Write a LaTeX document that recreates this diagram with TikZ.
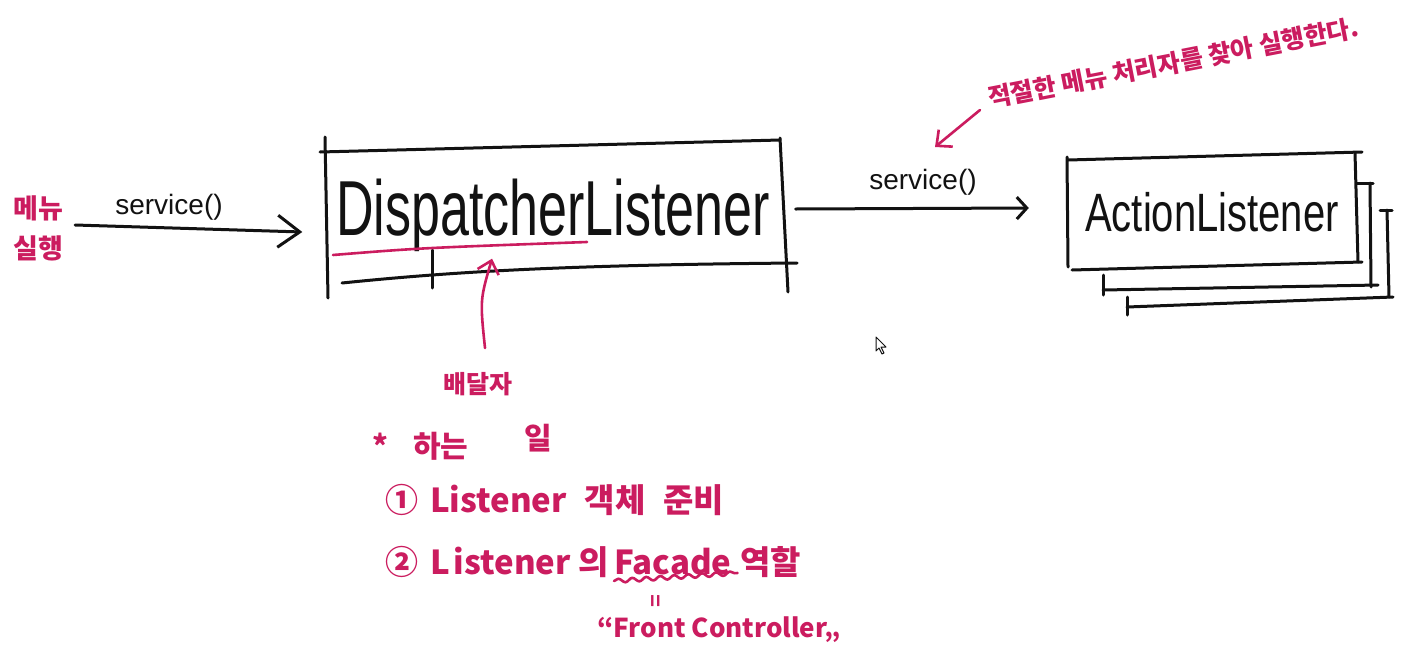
\documentclass[tikz,border=0pt]{standalone}
\usepackage{fontspec}
\setmainfont{Liberation Sans}
\newfontfamily\kr{Noto Sans CJK KR}
\usetikzlibrary{arrows.meta,calc,decorations.pathmorphing}
\definecolor{mag}{RGB}{203,28,95}
\definecolor{ink}{RGB}{18,18,18}
\tikzset{
  pen/.style={line width=3pt, line cap=round, line join=round, color=ink},
  mpen/.style={line width=2.6pt, line cap=round, line join=round, color=mag},
  bigarr/.style={pen, -{Straight Barb[length=22pt,width=32pt]}},
  smallarr/.style={pen, -{Straight Barb[length=10pt,width=22pt]}},
  marr/.style={mpen, -{Straight Barb[length=12pt,width=22pt]}},
  mtext/.style={text=mag, font=\kr\bfseries\fontsize{30}{34}\selectfont, inner sep=0pt},
  boxnode/.style={draw=none, inner sep=0pt}
}
\begin{document}
\begin{tikzpicture}[x=1pt,y=-1pt]
\useasboundingbox[fill=white] (0,0) rectangle (1413,664);

% left label
\node[mtext, font=\kr\bfseries\fontsize{27}{40}\selectfont, align=center] (menu) at (38,228) {메뉴\\실행};

% DispatcherListener box
\node[boxnode, minimum width=465pt, minimum height=155pt,
      font=\fontsize{52}{56}\selectfont, text=ink] (disp) at (553,215)
      {\raisebox{-6pt}{\scalebox{1}[1.5]{DispatcherListener}}};
\draw[pen] (320,152) -- (780,140);
\draw[pen] (325,137) -- (328,298);
\draw[pen] (780,138) -- (788,292);
\draw[pen] (342,283) .. controls (450,272) and (560,265) .. (797,263);
\draw[pen] (432,250) -- (432,288);

% ActionListener stacked boxes
\node[boxnode, minimum width=290pt, minimum height=112pt,
      font=\fontsize{40}{44}\selectfont, text=ink] (act) at (1212,212)
      {\scalebox{1}[1.35]{ActionListener}};
\draw[pen] (1068,160) -- (1362,152);
\draw[pen] (1067,157) -- (1068,267);
\draw[pen] (1355,153) -- (1358,262);
\draw[pen] (1072,270) -- (1362,262);
\draw[pen] (1357,183) -- (1373,183);
\draw[pen] (1370,183) -- (1371,287);
\draw[pen] (1103,290) -- (1378,285);
\draw[pen] (1103,275) -- (1103,295);
\draw[pen] (1380,210) -- (1392,210);
\draw[pen] (1387,210) -- (1389,297);
\draw[pen] (1127,307) -- (1393,297);
\draw[pen] (1127,297) -- (1127,315);

% connectors
\draw[bigarr] ($(menu.east)+(12,-3)$) -- ($(disp.west)+(-18,17)$);
\node[text=ink, font=\fontsize{28}{30}\selectfont] (s1) at (169,207) {service()};
\draw[smallarr] ($(disp.east)+(10,-6)$) -- ($(act.west)+(-38,-4)$);
\node[text=ink, font=\fontsize{28}{30}\selectfont] (s2) at (923,182) {service()};

% magenta annotations around Dispatcher
\draw[mpen] (333,255) .. controls (420,248) .. (587,242);
\node[mtext, font=\kr\bfseries\fontsize{25}{28}\selectfont] (bae) at (478,384) {배달자};
\draw[marr] ($(bae.north)+(7,-24)$) .. controls (480,300) .. ($(disp.south)+(-61,-34)$);

% top-right note
\node[mtext, font=\kr\bfseries\fontsize{25}{28}\selectfont, anchor=base west, rotate=11] (note) at (990,108)
  {적절한 메뉴 처리자를 찾아 실행한다.};
\coordinate (ntip) at (935,147);
\draw[marr] ([shift={(-10,2)}]note.base west) -- (ntip);

% list
\node[mtext, anchor=base west] (hdr) at (372,457)
  {*\hspace{25pt}하는\hspace{56pt}\raisebox{8pt}{일}};
\node[mtext, font=\kr\bfseries\fontsize{33}{38}\selectfont, anchor=base west] (l1) at (385,512)
  {①\hspace{12pt}Listener\hspace{18pt}객체\hspace{18pt}준비};
\node[mtext, font=\kr\bfseries\fontsize{33}{38}\selectfont, anchor=base west] (l2a) at (385,574)
  {②\hspace{12pt}L\hspace{4pt}istener\hspace{8pt}의};
\node[mtext, font=\kr\bfseries\fontsize{33}{38}\selectfont, anchor=base west] (fac) at (614,574) {Facade};
\node[mtext, font=\kr\bfseries\fontsize{33}{38}\selectfont, anchor=base west] (l2b) at (740,574) {역할};
\draw[mpen, decorate, decoration={snake, amplitude=2pt, segment length=14pt}]
  ($(fac.base west)+(0,7)$) -- ($(fac.base east)+(6,-1)$);
\node[mtext, font=\bfseries\fontsize{22}{24}\selectfont] (eq) at (657,601) {\rotatebox{90}{=}};
\node[mtext, font=\kr\bfseries\fontsize{26}{30}\selectfont, anchor=base west] (fc) at (597,637)
  {“Front Controller„};

% mouse cursor
\draw[fill=white, draw=ink, line width=1pt, line join=round]
  (876,337) -- (876,351) -- (879,348) -- (882,354) -- (884,353) -- (881,347) -- (886,347) -- cycle;
\end{tikzpicture}
\end{document}
